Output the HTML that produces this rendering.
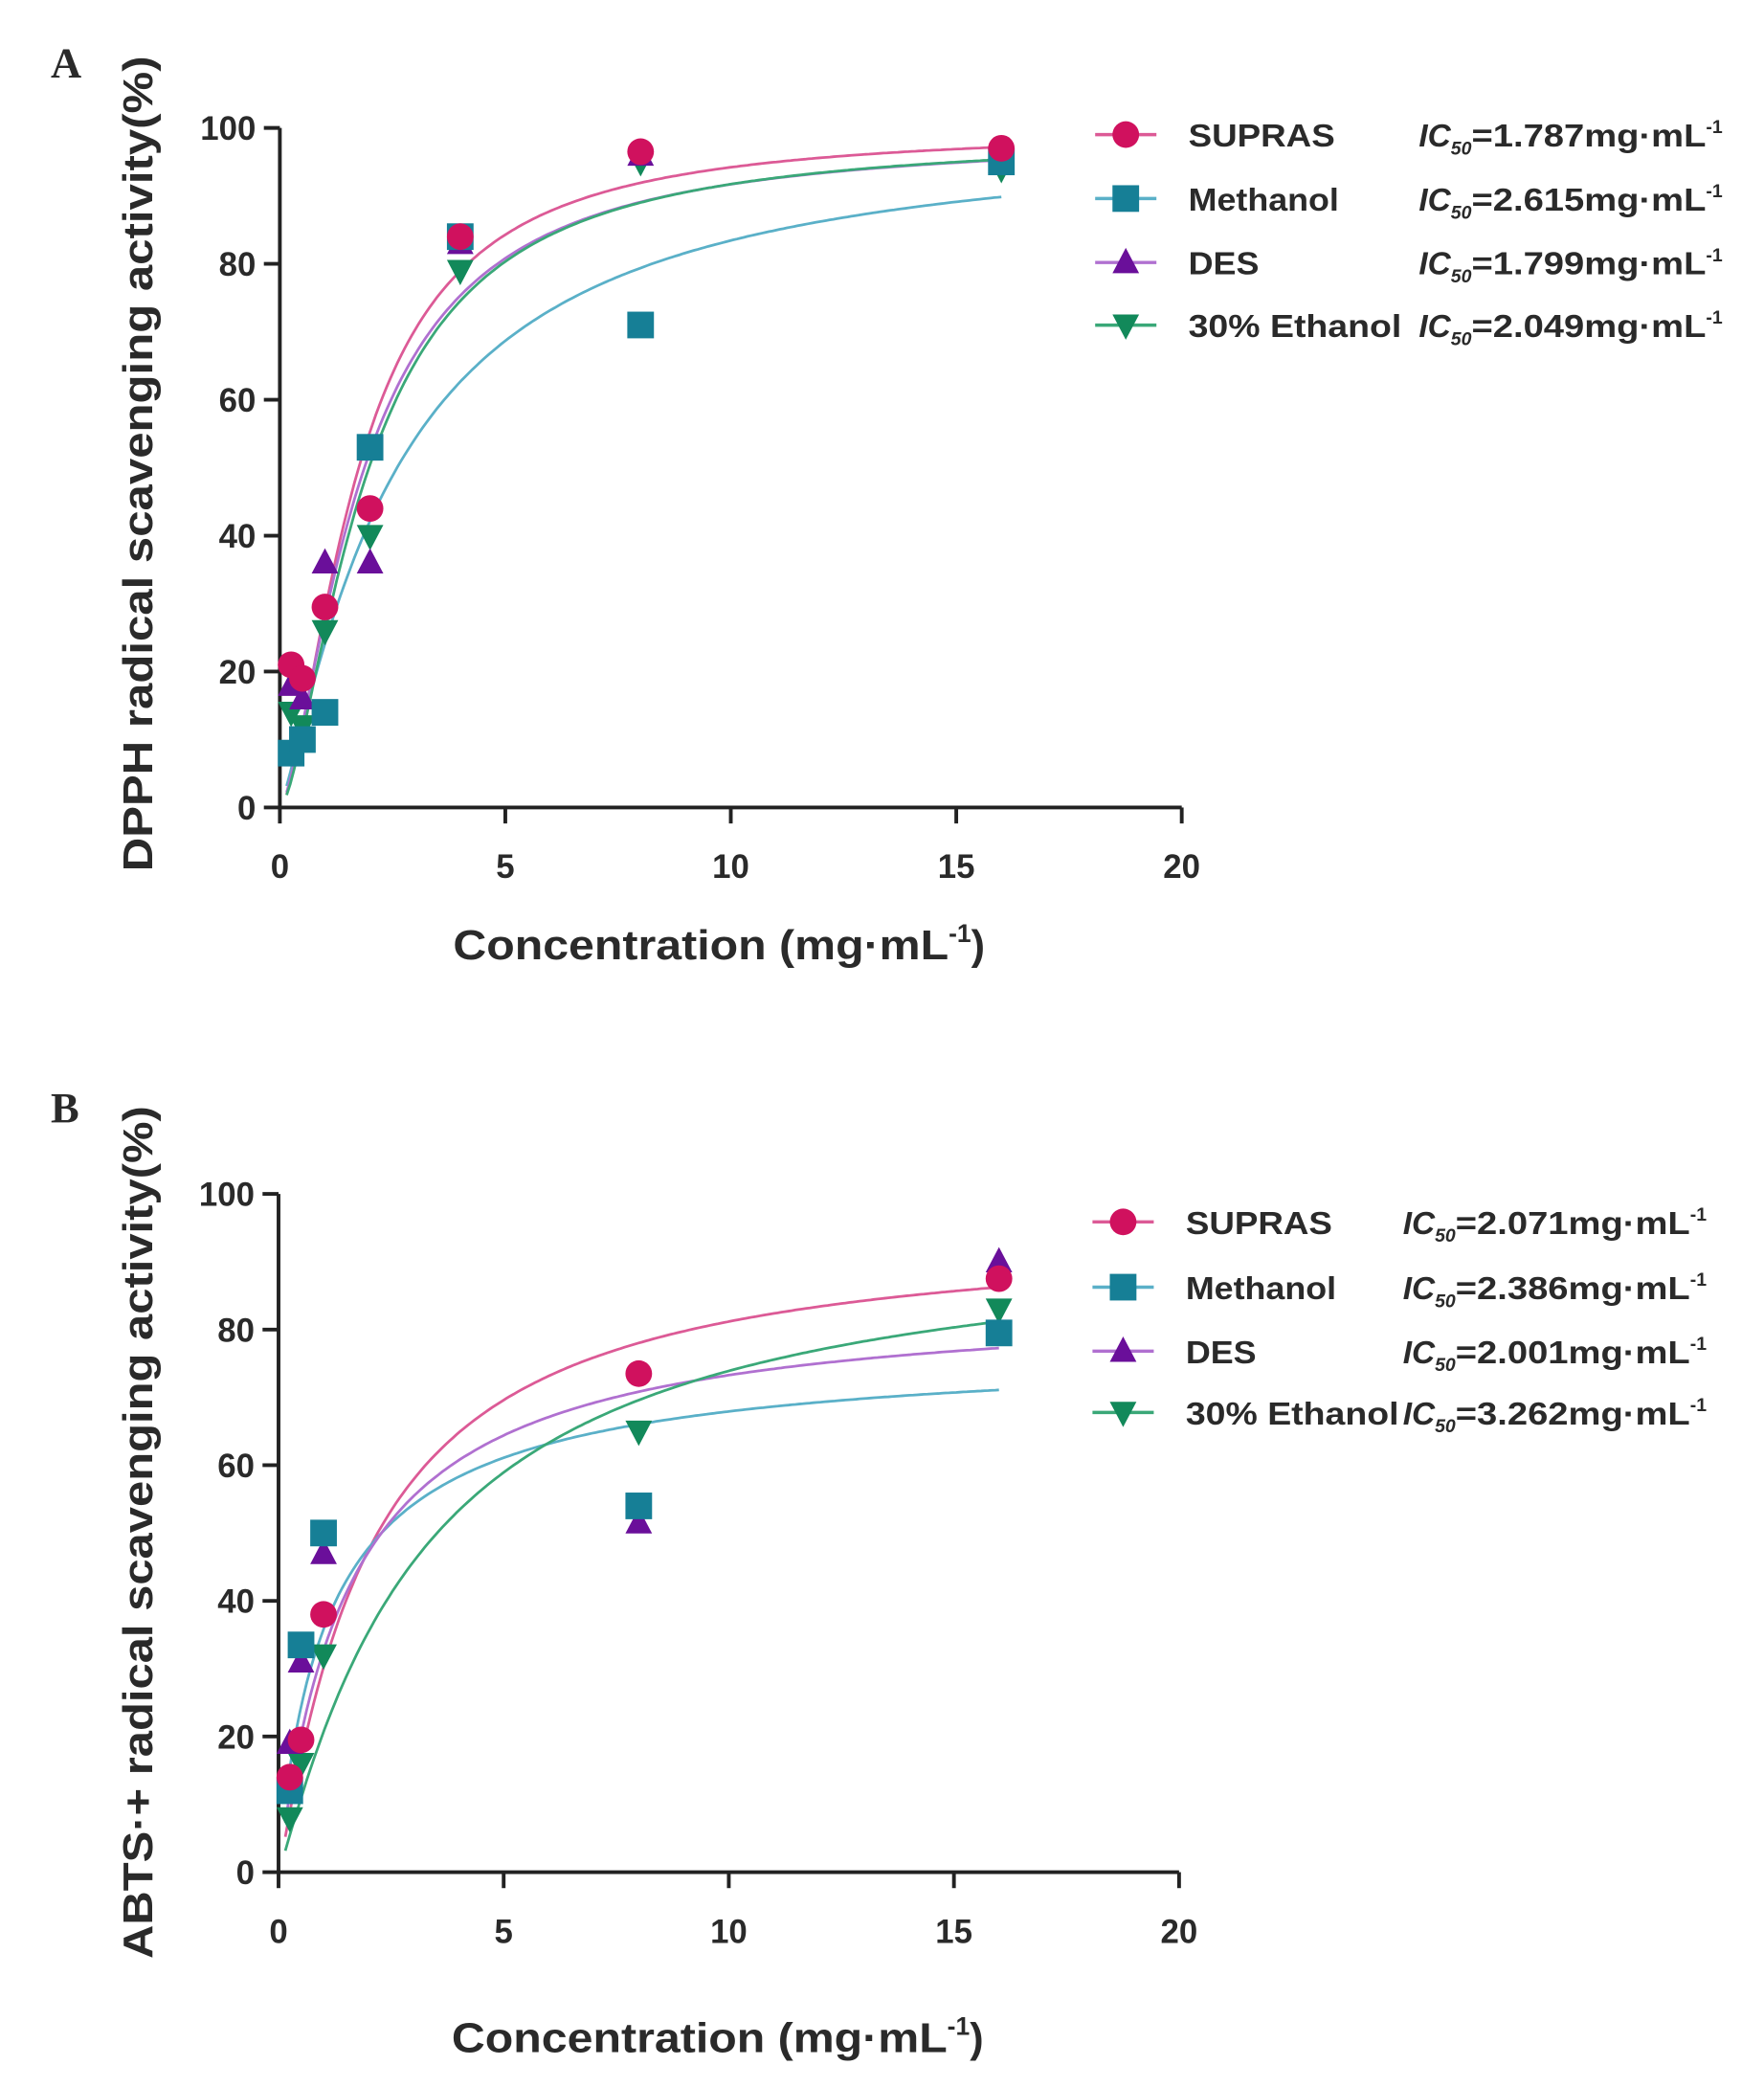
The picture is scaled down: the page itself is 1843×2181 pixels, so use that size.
<!DOCTYPE html>
<html><head><meta charset="utf-8"><style>
html,body{margin:0;padding:0;background:#fff}
svg{display:block}
text{font-family:"Liberation Sans",Arial,sans-serif;fill:#2a2a2a}
</style></head><body>
<svg id="fig" width="1843" height="2181" viewBox="0 0 1324 1567" xmlns="http://www.w3.org/2000/svg"></svg>
<script>
const NS='http://www.w3.org/2000/svg';
const svg=document.getElementById('fig');
const seriesNames=['SUPRAS','Methanol','DES','30% Ethanol'];
const markerCol=['#d0115e','#167f96','#6a0f9a','#12895a'];
const lineCol=['#dc5a96','#5ab0c8','#b070d0','#3aa878'];
const shapes=['circle','square','tri','tridown'];
const xTicks=[0,5,10,15,20];
const yTicks=[0,20,40,60,80,100];
// Panel A data
const concA=[0.25,0.5,1,2,4,8,16];
const aSupras=[21,19,29.5,44,84,96.5,97];
const aMethanol=[8,10,14,53,84,71,95];
const aDes=[18,16,36,36,83,96,95];
const aEthanol=[14,12,26,40,79,95,94];
const aIC50Labels=['1.787','2.615','1.799','2.049'];
const aFitTop=[100,100,99,99];
const aFitIC=[1.75,2.6,1.85,1.95];
const aFitHill=[1.6,1.2,1.5,1.55];
// Panel B data
const concB=[0.25,0.5,1,8,16];
const bSupras=[14,19.5,38,73.5,87.5];
const bMethanol=[12,33.5,50,54,79.5];
const bDes=[19,31,47,51.5,90];
const bEthanol=[8,16,32,65,83];
const bIC50Labels=['2.071','2.386','2.001','3.262'];
const bFitTop=[95,78,85,95];
const bFitIC=[2.0,1.2,1.6,3.2];
const bFitHill=[1.1,0.9,1.0,1.1];

function el(tag,attrs,parent){const e=document.createElementNS(NS,tag);for(const k in attrs)e.setAttribute(k,attrs[k]);(parent||svg).appendChild(e);return e;}
function txt(s,attrs,parent){const t=el('text',attrs,parent);t.textContent=s;return t;}
function marker(g,shape,cx,cy,col,r){
  let m;
  if(shape==='circle')m=el('circle',{cx,cy,r:r,fill:col},g);
  else if(shape==='square')m=el('rect',{x:cx-r,y:cy-r,width:2*r,height:2*r,fill:col},g);
  else if(shape==='tri')m=el('polygon',{points:`${cx},${cy-r*1.1} ${cx-r},${cy+r*0.8} ${cx+r},${cy+r*0.8}`,fill:col},g);
  else m=el('polygon',{points:`${cx},${cy+r*1.1} ${cx-r},${cy-r*0.8} ${cx+r},${cy-r*0.8}`,fill:col},g);
  return m;
}
function panel(o){
  const g=el('g',{});
  
  
  const X=v=>o.x0+(o.x1-o.x0)*v/20;
  const Y=v=>o.y0-(o.y0-o.y1)*v/100;
  const ax=el('path',{d:`M${X(0)},${Y(100)} V${Y(0)} H${X(20)}`,stroke:'#222','stroke-width':2.8,fill:'none'},g);
  
  yTicks.forEach(v=>{
    el('line',{x1:X(0)-12,x2:X(0),y1:Y(v),y2:Y(v),stroke:'#222','stroke-width':2.8},g);
    const t=txt(String(v),{x:X(0)-18,y:Y(v)+9,'text-anchor':'end','font-size':25,'font-weight':'bold'},g);
    
  });
  xTicks.forEach(v=>{
    el('line',{x1:X(v),x2:X(v),y1:Y(0),y2:Y(0)+12,stroke:'#222','stroke-width':2.8},g);
    const t=txt(String(v),{x:X(v),y:Y(0)+53,'text-anchor':'middle','font-size':25,'font-weight':'bold'},g);
    
  });
  const yt=txt(o.ytitle,{x:0,y:0,'text-anchor':'middle','font-size':31,'font-weight':'bold',textLength:o.ytLen,lengthAdjust:'spacingAndGlyphs',transform:`translate(${o.ytx},${o.yty}) rotate(-90)`},g);
  
  const xt=el('text',{x:X(0)+130,y:o.xty,'font-size':31,'font-weight':'bold'},g);
  xt.innerHTML='<tspan textLength="372" lengthAdjust="spacingAndGlyphs">Concentration (mg·mL</tspan><tspan dy="-13" font-size="19">-1</tspan><tspan dy="13">)</tspan>';
  
  const pl=txt(o.letter,{x:o.lx,y:o.ly,'font-size':32,'font-weight':'bold',style:'font-family:"Liberation Serif",serif'},g);
  
  o.series.forEach((s,i)=>{
    let d='';
    for(let k=0;k<=200;k++){const x=o.conc[0]*0.6+(16-o.conc[0]*0.6)*k/200;const y=o.top[i]*Math.pow(x,o.hill[i])/(Math.pow(o.ic[i],o.hill[i])+Math.pow(x,o.hill[i]));d+=(k?'L':'M')+X(x).toFixed(1)+','+Y(y).toFixed(1);}
    const p=el('path',{d,stroke:lineCol[i],'stroke-width':2,fill:'none'},g);
    
    
  });
  for(let i=o.series.length-1;i>=0;i--){
    o.series[i].forEach((v,j)=>{
      const m=marker(g,shapes[i],X(o.conc[j]),Y(v),markerCol[i],10);
      
      
    });
  }
  o.legY.forEach((ly,i)=>{
    const lg=el('g',{},g);
    
    
    el('line',{x1:o.legX-23,x2:o.legX+23,y1:ly,y2:ly,stroke:lineCol[i],'stroke-width':2.5},lg);
    marker(lg,shapes[i],o.legX,ly,markerCol[i],10);
    txt(seriesNames[i],{x:o.legX+47,y:ly+9,'font-size':24,'font-weight':'bold',textLength:[110,113,53,160][i],lengthAdjust:'spacingAndGlyphs'},lg);
    const ic=el('text',{x:o.icX,y:ly+9,'font-size':24,'font-weight':'bold'},lg);
    ic.innerHTML='<tspan font-style="italic">IC</tspan><tspan dy="6" font-size="14" font-style="italic">50</tspan><tspan dy="-6" textLength="176" lengthAdjust="spacingAndGlyphs">='+o.icLabels[i]+'mg·mL</tspan><tspan dy="-10" font-size="14">-1</tspan>';
  });
}
panel({name:'panel-a-dpph',letter:'A',lx:38,ly:58,x0:210,x1:887,y0:606,y1:96,conc:concA,
  series:[aSupras,aMethanol,aDes,aEthanol],top:aFitTop,ic:aFitIC,hill:aFitHill,
  ytitle:'DPPH radical scavenging activity(%)',ytLen:612,ytx:114,yty:348,xty:720,
  legX:845,legY:[101,149,197,244],icX:1065,icLabels:aIC50Labels});
panel({name:'panel-b-abts',letter:'B',lx:38,ly:842,x0:209,x1:885,y0:1405,y1:896,conc:concB,
  series:[bSupras,bMethanol,bDes,bEthanol],top:bFitTop,ic:bFitIC,hill:bFitHill,
  ytitle:'ABTS·+ radical scavenging activity(%)',ytLen:640,ytx:114,yty:1150,xty:1540,
  legX:843,legY:[917,966,1014,1060],icX:1053,icLabels:bIC50Labels});
</script>
</body></html>
